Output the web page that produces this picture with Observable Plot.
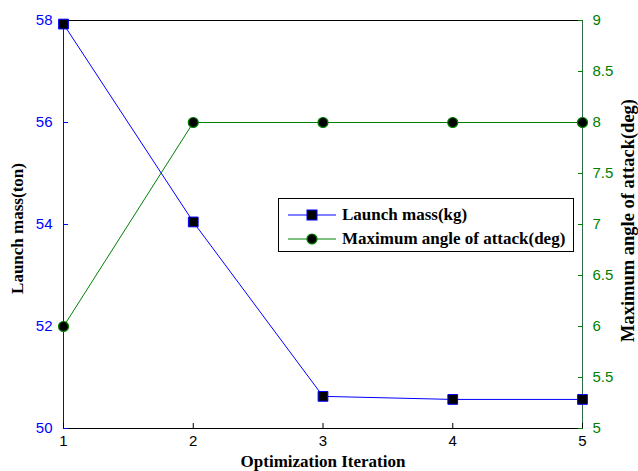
<!DOCTYPE html>
<html><head><meta charset="utf-8">
<script src="https://cdn.jsdelivr.net/npm/d3@7"></script>
<script src="https://cdn.jsdelivr.net/npm/@observablehq/plot@0.6"></script>
<style>
body{margin:0;background:#fff}
#wrap{position:relative;width:638px;height:471px}
.legend{position:absolute;left:278px;top:198px;width:296px;height:54px;border:1px solid #000;background:#fff;box-sizing:border-box;font:bold 17px "Liberation Serif","Times New Roman",serif;color:#000}
.row{position:absolute;left:9px;height:20px;display:flex;align-items:center;white-space:nowrap}
.row svg{margin-right:6px}
</style></head><body><div id="wrap"></div>
<script>
const iterations = [1, 2, 3, 4, 5];
const launchMass = [57.93, 54.05, 50.63, 50.57, 50.57];
const maxAoA = [6, 8, 8, 8, 8];
const massTicks = [50, 52, 54, 56, 58];
const aoaTicks = [5, 5.5, 6, 6.5, 7, 7.5, 8, 8.5, 9];
const xTicks = [1, 2, 3, 4, 5];
const seriesNames = ["Launch mass(kg)", "Maximum angle of attack(deg)"];
const xTitle = "Optimization Iteration";
const yLeftTitle = "Launch mass(ton)";
const yRightTitle = "Maximum angle of attack(deg)";

const massDomain = [50, 58];
const aoaDomain = [5, 9];
const toLeft = a => massDomain[0] + (a - aoaDomain[0]) * (massDomain[1] - massDomain[0]) / (aoaDomain[1] - aoaDomain[0]);
const fromLeft = m => aoaDomain[0] + (m - massDomain[0]) * (aoaDomain[1] - aoaDomain[0]) / (massDomain[1] - massDomain[0]);

const BLUE = "#0000ff", GREEN = "#008000", RAXIS = "#2f6b4a";
const SERIF = "'Liberation Serif', 'Times New Roman', serif";
const massData = iterations.map((x, i) => ({x, y: launchMass[i]}));
const aoaData = iterations.map((x, i) => ({x, y: toLeft(maxAoA[i])}));

const chart = Plot.plot({
  width: 638, height: 471,
  marginLeft: 63, marginRight: 56, marginTop: 20, marginBottom: 43,
  style: {fontFamily: "'Liberation Sans', Arial, sans-serif", fontSize: "15px", background: "#fff"},
  x: {domain: [1, 5], label: null},
  y: {domain: massDomain, label: null},
  marks: [
    Plot.frame({stroke: "#000"}),
    Plot.ruleX([1], {stroke: BLUE}),
    Plot.ruleX([5], {stroke: RAXIS}),
    Plot.axisX(xTicks, {anchor: "bottom", tickSize: -5, fill: "none", stroke: "#000", label: null}),
    Plot.axisX(xTicks, {anchor: "bottom", tickSize: 0, tickPadding: 7, fill: "#000", label: null, fontSize: 15, tickFormat: d => String(d)}),
    Plot.axisY(massTicks, {anchor: "left", tickSize: -5, fill: "none", stroke: BLUE, label: null}),
    Plot.axisY(massTicks, {anchor: "left", tickSize: 0, tickPadding: 11, fill: BLUE, label: null, fontSize: 15, tickFormat: d => String(d)}),
    Plot.axisY(aoaTicks.map(toLeft), {anchor: "right", tickSize: -5, fill: "none", stroke: GREEN, label: null}),
    Plot.axisY(aoaTicks.map(toLeft), {anchor: "right", tickSize: 0, tickPadding: 10, fill: GREEN, label: null, fontSize: 15,
      tickFormat: d => String(+fromLeft(d).toFixed(1))}),
    Plot.line(massData, {x: "x", y: "y", stroke: BLUE, strokeWidth: 1}),
    Plot.line(aoaData, {x: "x", y: "y", stroke: GREEN, strokeWidth: 1}),
    Plot.dot(massData, {x: "x", y: "y", symbol: "square", r: 5.5, fill: "#000", stroke: BLUE, strokeWidth: 1}),
    Plot.dot(aoaData, {x: "x", y: "y", symbol: "circle", r: 5, fill: "#000", stroke: GREEN, strokeWidth: 1.2}),
    Plot.text([xTitle], {frameAnchor: "bottom", dy: 33, textAnchor: "middle", lineAnchor: "middle", fontFamily: SERIF, fontWeight: "bold", fontSize: 17, fill: "#000"}),
    Plot.text([yLeftTitle], {frameAnchor: "left", rotate: -90, dx: -46, dy: 4, textAnchor: "middle", lineAnchor: "middle", fontFamily: SERIF, fontWeight: "bold", fontSize: 17, fill: "#000"}),
    Plot.text([yRightTitle], {frameAnchor: "right", rotate: -90, dx: 46, dy: -4, textAnchor: "middle", lineAnchor: "middle", fontFamily: SERIF, fontWeight: "bold", fontSize: 18.5, fill: "#000"})
  ]
});
const wrap = document.getElementById("wrap");
wrap.appendChild(chart);

const legend = document.createElement("div");
legend.className = "legend";
const items = [
  {name: seriesNames[0], color: BLUE, shape: "square"},
  {name: seriesNames[1], color: GREEN, shape: "circle"}
];
items.forEach((it, i) => {
  const row = document.createElement("div");
  row.className = "row";
  row.style.top = (6 + i * 24) + "px";
  const marker = it.shape === "square"
    ? `<rect x="19" y="5" width="10" height="10" fill="#000" stroke="${it.color}"/>`
    : `<circle cx="24" cy="10" r="5" fill="#000" stroke="${it.color}" stroke-width="1.2"/>`;
  row.innerHTML = `<svg width="48" height="20"><line x1="0" y1="10" x2="48" y2="10" stroke="${it.color}"/>${marker}</svg><span>${it.name}</span>`;
  legend.appendChild(row);
});
wrap.appendChild(legend);
</script></body></html>
